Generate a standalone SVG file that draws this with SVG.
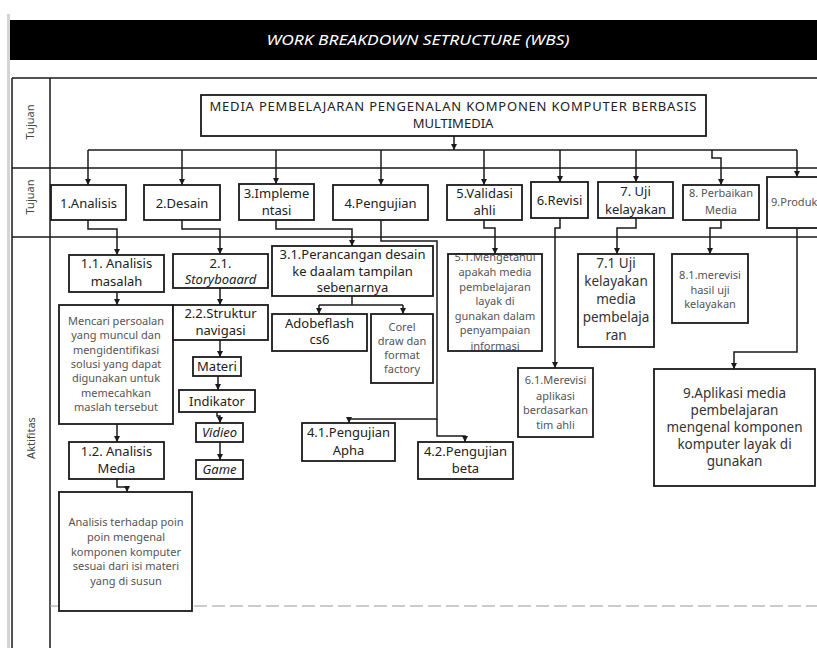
<svg xmlns="http://www.w3.org/2000/svg" width="817" height="648" viewBox="0 0 817 648">
<style>
.b{fill:#fff;stroke:#1a1a1a;stroke-width:1.8}
.c{fill:none;stroke:#1a1a1a;stroke-width:1.5}
.t{font-family:"Noto Sans","Open Sans",sans-serif;font-size:13px;fill:#222;text-anchor:middle}
.s{font-family:"Noto Sans","Open Sans",sans-serif;font-size:11px;fill:#555;text-anchor:middle}
.m{font-family:"Noto Sans","Open Sans",sans-serif;font-size:13.5px;fill:#333;text-anchor:middle}
.i{font-style:italic}
.lab{font-family:"Noto Sans","Open Sans",sans-serif;font-size:11px;fill:#444;text-anchor:middle}
.g{fill:none;stroke:#1a1a1a;stroke-width:1.5}
</style>
<defs>
<marker id="a" markerUnits="userSpaceOnUse" markerWidth="7" markerHeight="6" refX="6" refY="3" orient="auto">
<path d="M0,0 L6,3 L0,6 z" fill="#1a1a1a"/>
</marker>
</defs>
<rect width="817" height="648" fill="#fff"/>
<rect x="7" y="14" width="3" height="634" fill="#d4d4d4"/>
<g id="header">
<rect x="10" y="20" width="807" height="40" fill="#000"/>
<text x="418" y="45" font-family="Noto Sans, Open Sans, sans-serif" font-size="14" font-style="italic" fill="#fff" text-anchor="middle" textLength="303" lengthAdjust="spacingAndGlyphs">WORK BREAKDOWN SETRUCTURE (WBS)</text>
</g>
<g id="grid">
<path class="g" d="M12,78 H817 M12,168 H817 M12,237 H817 M12,78 V648 M50,78 V648"/>
<path d="M50,606 H817" stroke="#9a9a9a" stroke-width="1.2" stroke-dasharray="13 5" fill="none"/>
<text class="lab" transform="translate(34,122) rotate(-90)">Tujuan</text>
<text class="lab" transform="translate(34,197) rotate(-90)">Tujuan</text>
<text class="lab" transform="translate(35,438) rotate(-90)">Aktifitas</text>
</g>
<g id="connectors">
<path class="c" marker-end="url(#a)" d="M454,136 V150"/>
<path class="c" d="M88,150 H797"/>
<path class="c" marker-end="url(#a)" d="M88,150 V185"/>
<path class="c" marker-end="url(#a)" d="M182,150 V185"/>
<path class="c" marker-end="url(#a)" d="M276,150 V184"/>
<path class="c" marker-end="url(#a)" d="M381,150 V185"/>
<path class="c" marker-end="url(#a)" d="M484,150 V185"/>
<path class="c" marker-end="url(#a)" d="M560,150 V182"/>
<path class="c" marker-end="url(#a)" d="M636,150 V182"/>
<path class="c" marker-end="url(#a)" d="M712,150 V158 H721 V185"/>
<path class="c" marker-end="url(#a)" d="M797,150 V177"/>
<path class="c" marker-end="url(#a)" d="M88,220 V229 H117 V255"/>
<path class="c" marker-end="url(#a)" d="M182,220 V229 H220 V254"/>
<path class="c" marker-end="url(#a)" d="M276,220 V229 H352 V246"/>
<path class="c" marker-end="url(#a)" d="M381,220 V241 H437 V419 H349 V423"/>
<path class="c" marker-end="url(#a)" d="M437,419 V436 H465 V442"/>
<path class="c" marker-end="url(#a)" d="M484,220 V228 H495 V254"/>
<path class="c" marker-end="url(#a)" d="M560,218 V228 H555 V368"/>
<path class="c" marker-end="url(#a)" d="M636,218 V228 H617 V254"/>
<path class="c" marker-end="url(#a)" d="M721,220 V228 H710 V254"/>
<path class="c" marker-end="url(#a)" d="M797,228 V352 H734 V369"/>
<path class="c" marker-end="url(#a)" d="M117,292 V305"/>
<path class="c" marker-end="url(#a)" d="M220,288 V305"/>
<path class="c" d="M352,296 V305 M319,305 H403"/>
<path class="c" marker-end="url(#a)" d="M319,305 V314"/>
<path class="c" marker-end="url(#a)" d="M403,305 V314"/>
<path class="c" marker-end="url(#a)" d="M220,340 V357"/>
<path class="c" marker-end="url(#a)" d="M218,376 V390"/>
<path class="c" marker-end="url(#a)" d="M217,412 V416 H220 V423"/>
<path class="c" marker-end="url(#a)" d="M220,442 V460"/>
<path class="c" marker-end="url(#a)" d="M117,424 V442"/>
<path class="c" marker-end="url(#a)" d="M117,479 V487 H127 V492"/>
</g>
<g id="root">
<rect class="b" x="201" y="95" width="505" height="41"/>
<text class="t" x="453" y="111" font-size="12.5" textLength="487" lengthAdjust="spacing">MEDIA PEMBELAJARAN PENGENALAN KOMPONEN  KOMPUTER  BERBASIS</text>
<text class="t" x="453" y="128" font-size="12.5">MULTIMEDIA</text>
</g>
<g id="n1"><rect class="b" x="51" y="185" width="75" height="35"/><text class="t" x="88.5" y="207.5">1.Analisis</text></g>
<g id="n2"><rect class="b" x="144" y="185" width="76" height="35"/><text class="t" x="182" y="207.5">2.Desain</text></g>
<g id="n3"><rect class="b" x="239" y="184" width="75" height="36"/><text class="t" x="276.5" y="197.5">3.Impleme</text><text class="t" x="276.5" y="214.5">ntasi</text></g>
<g id="n4"><rect class="b" x="333" y="185" width="95" height="35"/><text class="t" x="380.5" y="207.5">4.Pengujian</text></g>
<g id="n5"><rect class="b" x="447" y="185" width="75" height="35"/><text class="t" x="484.5" y="197.5">5.Validasi</text><text class="t" x="484.5" y="215">ahli</text></g>
<g id="n6"><rect class="b" x="531" y="182" width="57" height="36"/><text class="t" x="559.5" y="204.5">6.Revisi</text></g>
<g id="n7"><rect class="b" x="598" y="182" width="75" height="36"/><text class="t" x="635.5" y="196">7. Uji</text><text class="t" x="635.5" y="214">kelayakan</text></g>
<g id="n8"><rect class="b" x="683" y="185" width="76" height="35"/><text class="s" x="721" y="197">8. Perbaikan</text><text class="s" x="721" y="214">Media</text></g>
<g id="n9"><rect class="b" x="767" y="177" width="60" height="51"/><text class="s" x="771" y="206" style="text-anchor:start">9.Produk</text></g>

<g id="n11"><rect class="b" x="69" y="255" width="95" height="37"/><text class="t" x="116.5" y="268">1.1. Analisis</text><text class="t" x="116.5" y="286">masalah</text></g>
<g id="n11d"><rect class="b" x="59" y="305" width="114" height="119"/>
<text class="s" x="116" y="325">Mencari persoalan</text>
<text class="s" x="116" y="339.3">yang muncul dan</text>
<text class="s" x="116" y="353.6">mengidentifikasi</text>
<text class="s" x="116" y="367.9">solusi yang dapat</text>
<text class="s" x="116" y="382.2">digunakan untuk</text>
<text class="s" x="116" y="396.5">memecahkan</text>
<text class="s" x="116" y="410.8">maslah tersebut</text></g>
<g id="n12"><rect class="b" x="69" y="442" width="95" height="37"/><text class="t" x="116.5" y="456">1.2. Analisis</text><text class="t" x="116.5" y="473">Media</text></g>
<g id="n12d"><rect class="b" x="59" y="492" width="133" height="119"/>
<text class="s" x="126" y="526">Analisis terhadap poin</text>
<text class="s" x="126" y="540.8">poin mengenal</text>
<text class="s" x="126" y="555.6">komponen komputer</text>
<text class="s" x="126" y="570.4">sesuai dari isi materi</text>
<text class="s" x="126" y="585.2">yang di susun</text></g>

<g id="n21"><rect class="b" x="173" y="254" width="95" height="34"/><text class="t" x="220.5" y="267.5">2.1.</text><text class="t i" x="220.5" y="284">Storyboaard</text></g>
<g id="n22"><rect class="b" x="173" y="305" width="95" height="35"/><text class="t" x="220.5" y="318">2.2.Struktur</text><text class="t" x="220.5" y="335">navigasi</text></g>
<g id="materi"><rect class="b" x="193" y="357" width="48" height="19"/><text class="t" x="217" y="371">Materi</text></g>
<g id="indikator"><rect class="b" x="179" y="390" width="76" height="22"/><text class="t" x="217" y="405.5">Indikator</text></g>
<g id="vidieo"><rect class="b" x="196" y="423" width="47" height="19"/><text class="t i" x="219.5" y="437">Vidieo</text></g>
<g id="game"><rect class="b" x="196" y="460" width="47" height="19"/><text class="t i" x="219.5" y="474">Game</text></g>

<g id="n31"><rect class="b" x="272" y="246" width="161" height="50"/><text class="t" x="352.5" y="259">3.1.Perancangan desain</text><text class="t" x="352.5" y="275.5">ke daalam tampilan</text><text class="t" x="352.5" y="292">sebenarnya</text></g>
<g id="adobe"><rect class="b" x="272" y="314" width="95" height="37"/><text class="t" x="319.5" y="327.5">Adobeflash</text><text class="t" x="319.5" y="344">cs6</text></g>
<g id="corel"><rect class="b" x="371" y="314" width="62" height="69"/>
<text class="s" x="402" y="331">Corel</text><text class="s" x="402" y="345">draw dan</text><text class="s" x="402" y="359">format</text><text class="s" x="402" y="373">factory</text></g>

<g id="n41"><rect class="b" x="302" y="423" width="93" height="38"/><text class="t" x="348.5" y="437">4.1.Pengujian</text><text class="t" x="348.5" y="455">Apha</text></g>
<g id="n42"><rect class="b" x="418" y="442" width="95" height="37"/><text class="t" x="465.5" y="455.5">4.2.Pengujian</text><text class="t" x="465.5" y="473">beta</text></g>

<g id="n51">
<rect x="448" y="254" width="94" height="97" fill="#fff"/>
<text class="s" x="495" y="261">5.1.Mengetahui</text>
<text class="s" x="495" y="276">apakah media</text>
<text class="s" x="495" y="290.5">pembelajaran</text>
<text class="s" x="495" y="305">layak di</text>
<text class="s" x="495" y="319.5">gunakan dalam</text>
<text class="s" x="495" y="334">penyampaian</text>
<text class="s" x="495" y="350">informasi</text>
<rect x="448" y="254" width="94" height="97" fill="none" stroke="#1a1a1a" stroke-width="1.8"/></g>

<g id="n61"><rect class="b" x="518" y="368" width="75" height="69"/>
<text class="s" x="555.5" y="384">6.1.Merevisi</text><text class="s" x="555.5" y="399.5">aplikasi</text><text class="s" x="555.5" y="414">berdasarkan</text><text class="s" x="555.5" y="428.5">tim ahli</text></g>

<g id="n71"><rect class="b" x="578" y="254" width="76" height="93"/>
<text class="m" x="616" y="268">7.1 Uji</text><text class="m" x="616" y="286">kelayakan</text><text class="m" x="616" y="304">media</text><text class="m" x="616" y="322">pembelaja</text><text class="m" x="616" y="340">ran</text></g>

<g id="n81"><rect class="b" x="672" y="254" width="76" height="69"/>
<text class="s" x="710" y="279">8.1.merevisi</text><text class="s" x="710" y="294">hasil uji</text><text class="s" x="710" y="308">kelayakan</text></g>

<g id="n91"><rect class="b" x="654" y="369" width="161" height="117"/>
<text class="m" x="734.5" y="398">9.Aplikasi media</text><text class="m" x="734.5" y="415">pembelajaran</text><text class="m" x="734.5" y="432">mengenal komponen</text><text class="m" x="734.5" y="449">komputer layak di</text><text class="m" x="734.5" y="466">gunakan</text></g>
</svg>
